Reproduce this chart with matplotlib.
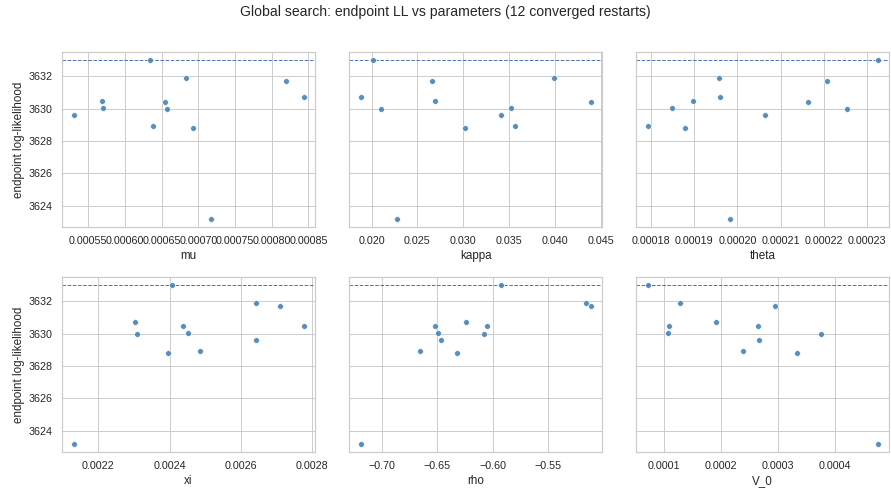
import matplotlib
matplotlib.use("Agg")
import matplotlib.pyplot as plt
import seaborn as sns
import numpy as np

# endpoint log-likelihood of the 12 converged restarts
loglik = [3633.01, 3631.88, 3631.71, 3630.70, 3630.47, 3630.45,
          3630.06, 3630.00, 3629.62, 3628.94, 3628.80, 3623.18]

mu = [0.0006347, 0.0006832, 0.000819, 0.0008435, 0.0005686, 0.000655,
      0.0005708, 0.0006573, 0.000530, 0.0006379, 0.0006922, 0.0007167]
kappa = [0.02011, 0.03993, 0.02663, 0.0188, 0.02692, 0.04388,
         0.03518, 0.02105, 0.03406, 0.03558, 0.03022, 0.02275]
theta = [0.0002325, 0.0001958, 0.0002207, 0.0001959, 0.0001896, 0.0002164,
         0.0001849, 0.0002255, 0.0002064, 0.0001792, 0.0001879, 0.0001983]
xi = [0.0024065, 0.0026439, 0.002710, 0.0023019, 0.0024364, 0.0027766,
      0.0024514, 0.0023084, 0.002643, 0.0024841, 0.0023944, 0.00213]
rho = [-0.5922, -0.5157, -0.5115, -0.6239, -0.6518, -0.6053,
       -0.6497, -0.6077, -0.6470, -0.6659, -0.6320, -0.7195]
V_0 = [0.0000708, 0.0001269, 0.0002947, 0.0001912, 0.0001088, 0.0002655,
       0.0001064, 0.0003754, 0.0002667, 0.000238, 0.0003339, 0.0004754]

param_names = ["mu", "kappa", "theta", "xi", "rho", "V_0"]
param_values = [mu, kappa, theta, xi, rho, V_0]
title = "Global search: endpoint LL vs parameters (12 converged restarts)"
ylabel = "endpoint log-likelihood"

sns.set_theme(style="whitegrid", context="notebook")
plt.rcParams["font.family"] = ["Liberation Sans", "DejaVu Sans"]

DPI = 70
fig, axes = plt.subplots(2, 3, figsize=(891 / DPI, 492 / DPI), dpi=DPI, sharey=True)
best = max(loglik)
for ax, name, vals in zip(axes.flat, param_names, param_values):
    ax.scatter(vals, loglik, s=36, color="steelblue", alpha=0.9,
               edgecolor="white", linewidth=0.75, zorder=3)
    ax.axhline(best, color="#4C72B0", linestyle="--", linewidth=1.0, zorder=2)
    ax.set_xlabel(name)
for ax in axes[:, 0]:
    ax.set_ylabel(ylabel)
axes[0, 0].set_yticks([3624, 3626, 3628, 3630, 3632])

fig.suptitle(title, y=0.99)
fig.subplots_adjust(left=0.0696, right=0.998, top=0.894, bottom=0.0813,
                    wspace=0.134, hspace=0.286)
fig.savefig("out.png", dpi=DPI)
